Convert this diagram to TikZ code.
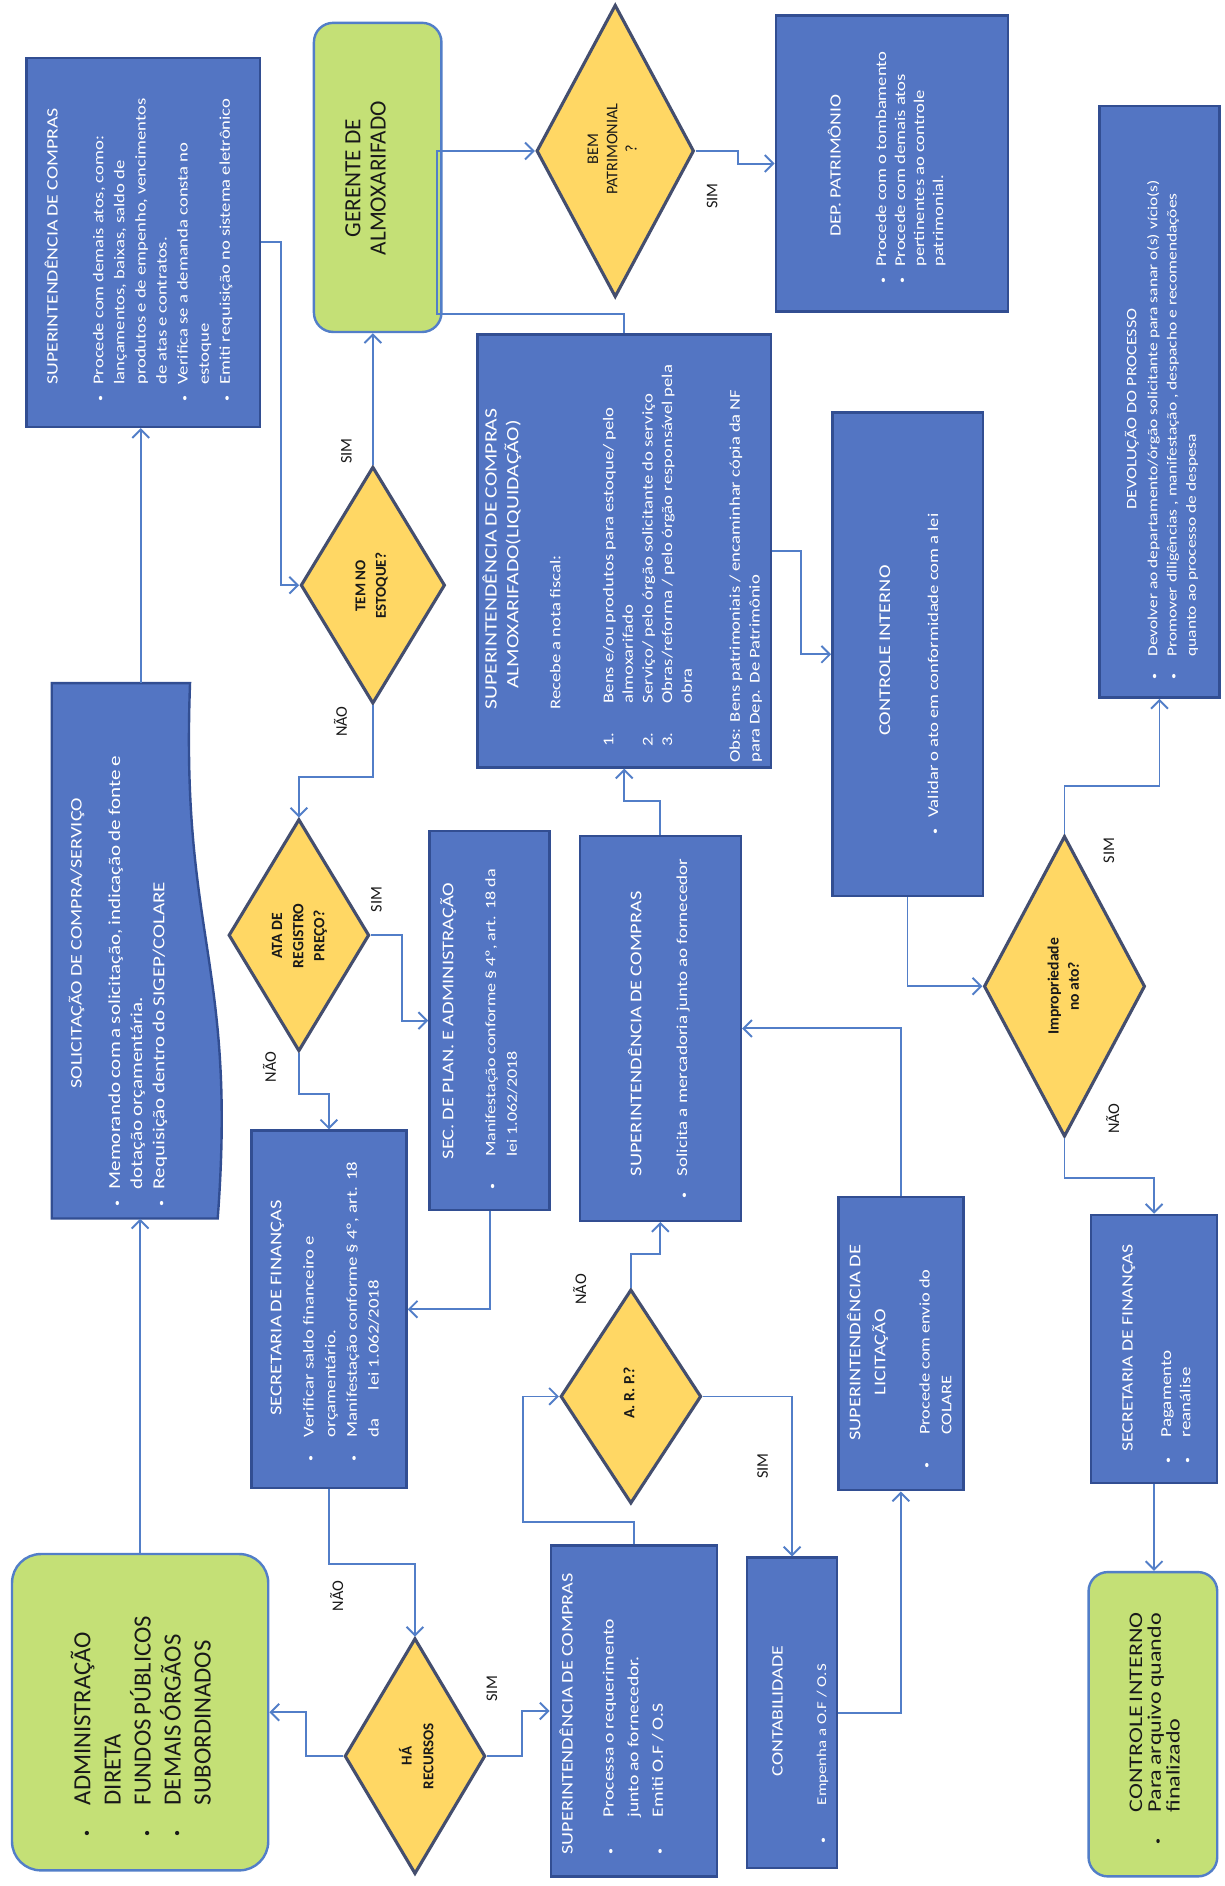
\documentclass[tikz,border=0pt]{standalone}
\usepackage{fontspec}
\setmainfont{Carlito}
\usetikzlibrary{shapes.geometric,arrows.meta}

\definecolor{boxblue}{RGB}{83,117,195}
\definecolor{boxedge}{RGB}{50,78,146}
\definecolor{boxgreen}{RGB}{196,224,118}
\definecolor{diayellow}{RGB}{255,215,100}
\definecolor{diaedge}{RGB}{68,78,110}
\definecolor{linkblue}{RGB}{82,126,200}
\definecolor{darktext}{RGB}{25,25,25}

\setlength{\parindent}{0pt}
\newlength{\bhang}
\newcommand{\fs}[2]{\fontsize{#1}{#2}\selectfont}
\newcommand{\bul}{{\fontsize{10}{10}\selectfont\textbullet}}
\newcommand{\bitem}[1]{\par\noindent\hangindent=\bhang\hangafter=0\llap{\makebox[\bhang][l]{\bul}}{\let\\\newline#1}\par}
\newcommand{\nitem}[2]{\par\noindent\hangindent=\bhang\hangafter=0\llap{\makebox[\bhang][l]{#1}}{\let\\\newline#2}\par}

\begin{document}
\begin{tikzpicture}[x=1pt, y=-1pt,
  bluebox/.style={draw=boxedge, fill=boxblue, line width=2pt, inner sep=0pt},
  greenbox/.style={draw=linkblue, fill=boxgreen, line width=2pt, rounded corners=16pt, inner sep=0pt},
  decision/.style={diamond, draw=diaedge, fill=diayellow, line width=2.6pt, inner sep=0pt},
  boxtext/.style={rotate=90, yscale=0.8, anchor=north west, inner sep=0pt, align=left, text=white},
  greentext/.style={rotate=90, anchor=north west, inner sep=0pt, align=left, text=darktext},
  dtext/.style={rotate=90, inner sep=0pt, align=center, text=darktext},
  yesno/.style={rotate=90, inner sep=0pt, text=darktext, font=\fs{13.5}{16}},
  link/.style={draw=linkblue, line width=1.6pt},
  arrow/.style={link, -{Straight Barb[length=7pt, width=14pt]}}]

    \path[use as bounding box, fill=white] (0,0) rectangle (1018,1568);

    % boxes
    \node[bluebox, minimum width=194pt, minimum height=307pt] (supA) at (119,201.5) {};
    \node[greenbox, minimum width=106pt, minimum height=257pt] (gerente) at (314,147.5) {};
    \node[decision, minimum width=131pt, minimum height=243pt] (bem) at (511.5,125.5) {};
    \node[bluebox, minimum width=193pt, minimum height=246pt] (dep) at (741.5,136) {};
    \node[bluebox, minimum width=100pt, minimum height=492pt] (devol) at (964,334) {};
    \node[bluebox, minimum width=244pt, minimum height=360pt] (liquid) at (519,458) {};
    \node[bluebox, minimum width=125pt, minimum height=402pt] (contr) at (754.5,544) {};
    \node[decision, minimum width=120pt, minimum height=197pt] (tem) at (310,486.5) {};
    \draw[bluebox] (43,568) -- (158,568) .. controls (150,780) and (197,800) .. (181,1013) -- (43,1013) -- cycle;
    \node[minimum width=148pt, minimum height=445pt, inner sep=0pt] (solic) at (117,790.5) {};
    \node[decision, minimum width=117pt, minimum height=193pt] (ata) at (248.5,777.5) {};
    \node[bluebox, minimum width=100pt, minimum height=315pt] (secplan) at (407,848.5) {};
    \node[bluebox, minimum width=134pt, minimum height=320pt] (supsol) at (549,855) {};
    \node[decision, minimum width=134pt, minimum height=250pt] (improp) at (885,820) {};
    \node[bluebox, minimum width=129pt, minimum height=297pt] (secfin) at (273.5,1088.5) {};
    \node[decision, minimum width=117pt, minimum height=178pt] (arp) at (524.5,1161) {};
    \node[bluebox, minimum width=104pt, minimum height=244pt] (licit) at (749,1117) {};
    \node[bluebox, minimum width=105pt, minimum height=223pt] (secfin2) at (959.5,1121.5) {};
    \node[greenbox, rounded corners=24pt, minimum width=213pt, minimum height=263pt] (admin) at (116.5,1423.5) {};
    \node[decision, minimum width=117pt, minimum height=196pt] (ha) at (345,1460) {};
    \node[bluebox, minimum width=138pt, minimum height=275pt] (supproc) at (527,1422.5) {};
    \node[bluebox, minimum width=75pt, minimum height=258pt] (contab) at (658.5,1424) {};
    \node[greenbox, minimum width=107pt, minimum height=253pt] (cinter) at (958.5,1433.5) {};

    % texts
    \node[boxtext, text width=300pt] (supAtxt) at (37,334) {\setlength{\bhang}{14pt}%
      {\fs{16.5}{20}\hspace*{\bhang}SUPERINTENDÊNCIA DE COMPRAS\par}\vspace{25.6pt}%
      \fs{15.5}{21.9}%
      \bitem{Procede com demais atos, como:\\lançamentos, baixas, saldo de\\produtos e de empenho, vencimentos\\de atas e contratos.}%
      \bitem{Verifica se a demanda consta no\\estoque}%
      \bitem{Emiti requisição no sistema eletrônico}};
    \node[dtext, font=\fs{19.3}{21}] (gerentetxt) at (304,148) {GERENTE DE\\ALMOXARIFADO};
    \node[dtext, font=\fs{13.5}{16}] (bemtxt) at (509,124) {BEM\\PATRIMONIAL\\?};
    \node[boxtext, text width=240pt] (deptxt) at (688,236) {\setlength{\bhang}{14pt}%
      {\fs{16.3}{20}\hspace*{39pt}DEP. PATRIMÔNIO\par}\vspace{27.5pt}%
      \fs{15.5}{19.75}%
      \bitem{Procede com o tombamento}%
      \bitem{Procede com demais atos\\pertinentes ao controle\\patrimonial.}};
    \node[boxtext, text width=490pt] (devoltxt) at (935,565) {\setlength{\bhang}{19pt}%
      {\fs{15}{20}\hspace*{141pt}DEVOLUÇÃO DO PROCESSO\par}\vspace{2pt}%
      \fs{14.5}{20}%
      \bitem{Devolver ao departamento/órgão solicitante para sanar o(s) vício(s)}%
      \bitem{Promover diligências , manifestação , despacho e recomendações\\quanto ao processo de despesa}};
    \node[boxtext, text width=420pt] (liqtxt) at (401,637) {%
      {\fs{18}{22.5}\hspace*{47pt}SUPERINTENDÊNCIA DE COMPRAS\\\hspace*{64pt}ALMOXARIFADO(LIQUIDAÇÃO)\par}\vspace{23.3pt}%
      \fs{15.5}{20.4}%
      {\leftskip=47pt Recebe a nota fiscal:\par}\vspace{34.6pt}%
      {\leftskip=16pt\setlength{\bhang}{36pt}%
      \nitem{1.}{Bens e/ou produtos para estoque/ pelo\\almoxarifado}%
      \nitem{2.}{Serviço/ pelo órgão solicitante do serviço}%
      \nitem{3.}{Obras/reforma / pelo órgão responsável pela\\obra}}\vspace{29.6pt}%
      {\leftskip=3pt Obs: Bens patrimoniais / encaminhar cópia da NF\\para Dep. De Patrimônio\par}};
    \node[boxtext, text width=390pt] (contrtxt) at (731,694) {\setlength{\bhang}{14pt}%
      {\fs{17}{20}\hspace*{82pt}CONTROLE INTERNO\par}\vspace{30pt}%
      \fs{15.5}{20}\bitem{Validar o ato em conformidade com a lei}};
    \node[dtext, font=\bfseries\fs{12.5}{17}] (temtxt) at (309,487) {TEM NO\\ESTOQUE?};
    \node[boxtext, text width=440pt] (solictxt) at (57,1003) {\setlength{\bhang}{14pt}%
      {\fs{16.8}{20}\hspace*{98pt}SOLICITAÇÃO DE COMPRA/SERVIÇO\par}\vspace{17pt}%
      \fs{17.5}{23}%
      \bitem{Memorando com a solicitação, indicação de fonte e\\dotação orçamentária.}%
      \bitem{Requisição dentro do SIGEP/COLARE}};
    \node[dtext, font=\bfseries\fs{13}{17.5}] (atatxt) at (249,778) {ATA DE\\REGISTRO\\PREÇO?};
    \node[boxtext, text width=310pt] (secplantxt) at (366,989) {\setlength{\bhang}{27pt}%
      {\fs{17}{20}\hspace*{25pt}SEC. DE PLAN. E ADMINISTRAÇÃO\par}\vspace{21pt}%
      \fs{15}{22.5}\bitem{Manifestação conforme § 4º, art. 18 da\\lei 1.062/2018}};
    \node[boxtext, text width=310pt] (supsoltxt) at (522,997) {\setlength{\bhang}{19pt}%
      {\fs{17}{20}\hspace*{\bhang}SUPERINTENDÊNCIA DE COMPRAS\par}\vspace{27.5pt}%
      \fs{15.8}{20}\bitem{Solicita a mercadoria junto ao fornecedor}};
    \node[dtext, font=\bfseries\fs{13}{17}] (improptxt) at (884,820) {Impropriedade\\no ato?};
    \node[boxtext, text width=290pt] (secfintxt) at (225,1215) {\setlength{\bhang}{20pt}%
      {\fs{17}{20}\hspace*{38pt}SECRETARIA DE FINANÇAS\par}\vspace{11pt}%
      \fs{15.6}{22.5}%
      \bitem{Verificar saldo financeiro e\\orçamentário.}%
      \bitem{Manifestação conforme § 4º, art. 18\\da\hspace{1.5em}lei 1.062/2018}};
    \node[dtext, font=\bfseries\fs{13}{16}] (arptxt) at (523,1158) {A. R. P.?};
    \node[boxtext, text width=240pt] (licittxt) at (704,1221) {\setlength{\bhang}{28pt}%
      {\fs{17}{26}\hspace*{23pt}SUPERINTENDÊNCIA DE\\\hspace*{61pt}LICITAÇÃO\par}\vspace{23.5pt}%
      \fs{15.3}{22.5}\bitem{Procede com envio do\\COLARE}};
    \node[boxtext, text width=220pt] (secfin2txt) at (933,1217) {\setlength{\bhang}{22pt}%
      {\fs{16.4}{20}\hspace*{10pt}SECRETARIA DE FINANÇAS\par}\vspace{20pt}%
      \fs{15.8}{20}\bitem{Pagamento}\bitem{reanálise}};
    \node[greentext, text width=250pt] (admintxt) at (50,1527) {\setlength{\bhang}{26pt}%
      \fs{20.5}{25}%
      \bitem{ADMINISTRAÇÃO\\DIRETA}\bitem{FUNDOS PÚBLICOS}\bitem{DEMAIS ÓRGÃOS\\SUBORDINADOS}};
    \node[dtext, font=\bfseries\fs{12.5}{18}] (hatxt) at (346,1460) {HÁ\\RECURSOS};
    \node[boxtext, text width=270pt] (supproctxt) at (465,1542) {\setlength{\bhang}{31pt}%
      {\fs{16.8}{25.6}SUPERINTENDÊNCIA DE COMPRAS\par}\vspace{17pt}%
      \fs{16.3}{25.6}\bitem{Processa o requerimento\\junto ao fornecedor.}\bitem{Emiti O.F / O.S}};
    \node[boxtext, text width=250pt] (contabtxt) at (642,1533) {\setlength{\bhang}{32pt}%
      {\fs{16.5}{20}\hspace*{56pt}CONTABILIDADE\par}\vspace{25pt}%
      \fs{14}{20}\bitem{Empenha a O.F / O.S}};
    \node[greentext, yscale=0.8, text width=240pt] (cintertxt) at (939,1534) {\setlength{\bhang}{27pt}%
      {\fs{20}{19.5}\hspace*{\bhang}CONTROLE INTERNO\par}%
      \fs{20}{19.5}\bitem{Para arquivo quando\\finalizado}};

    % answers
    \node[yesno] (simtem) at (288,375) {SIM};
    \node[yesno] (naotem) at (283,600) {NÃO};
    \node[yesno] (simata) at (313,748) {SIM};
    \node[yesno] (naoata) at (224,887) {NÃO};
    \node[yesno] (naosec) at (280,1327) {NÃO};
    \node[yesno] (simha) at (409,1404) {SIM};
    \node[yesno] (naoarp) at (482,1072) {NÃO};
    \node[yesno] (simarp) at (634,1219) {SIM};
    \node[yesno] (simbem) at (592,163) {SIM};
    \node[yesno] (simimp) at (922,707) {SIM};
    \node[yesno] (naoimp) at (925,930) {NÃO};

    % connectors
    \draw[arrow] (admin.north) -- (admin.north |- solic.south);
    \draw[arrow] (solic.north) -- (solic.north |- supA.south);
    \draw[arrow] (supA.east) -- ++(17,0) |- (tem.west);
    \draw[arrow] (tem.north) -- (tem.north |- gerente.south);
    \draw[arrow] (tem.south) -- ++(0,60) -| (ata.north);
    \draw[arrow] (ata.east) -- ++(26,0) |- (secplan.west);
    \draw[arrow] (ata.south) -- ++(0,34) -| (secfin.north);
    \draw[arrow] (secplan.south) |- (secfin.east);
    \draw[arrow] (secfin.south) -- ++(0,62) -| (ha.north);
    \draw[arrow] (ha.west) -- ++(-31,0) |- (admin.east);
    \draw[arrow] (ha.east) -- ++(29,0) |- (supproc.west);
    \draw[arrow] (supproc.north) -- ++(0,-19) -- ++(-92,0) |- (arp.west);
    \draw[arrow] (arp.north) -- ++(0,-28) -| (supsol.south);
    \draw[arrow] (arp.east) -| (contab.north);
    \draw[arrow] (contab.east) -| (licit.south);
    \draw[arrow] (licit.north) |- (supsol.east);
    \draw[arrow] (supsol.north) -- ++(0,-28) -| (liquid.south);
    \draw[arrow] (liquid.north) -- ++(0,-16) -- ++(-156,0) |- (bem.west);
    \draw[arrow] (bem.east) -- ++(35,0) |- (dep.west);
    \draw[arrow] (liquid.east) -- ++(24,0) |- (contr.west);
    \draw[arrow] (contr.south) |- (improp.west);
    \draw[arrow] (improp.north) -- ++(0,-40) -| (devol.south);
    \draw[arrow] (improp.south) -- ++(0,33) -| (secfin2.north);
    \draw[arrow] (secfin2.south) -- (secfin2.south |- cinter.north);
\end{tikzpicture}
\end{document}
